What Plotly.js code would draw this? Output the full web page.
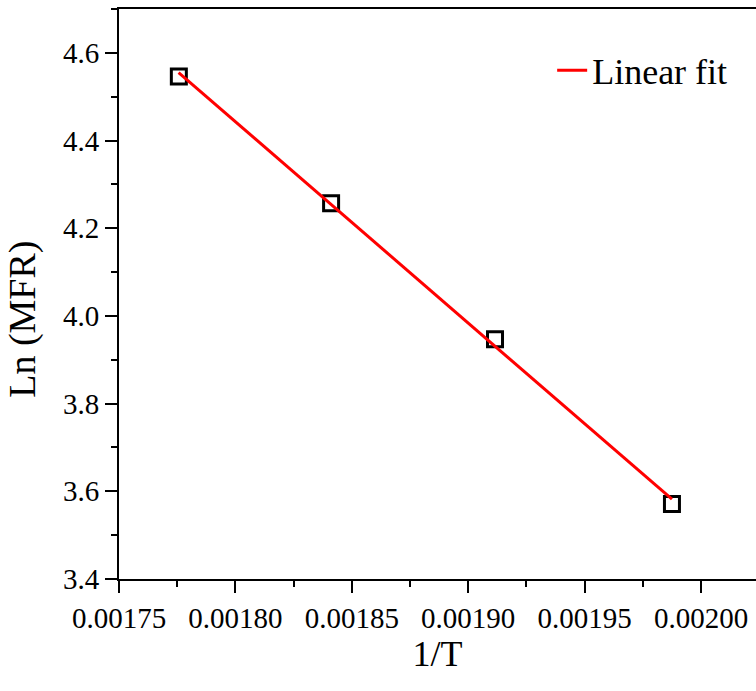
<!DOCTYPE html>
<html>
<head>
<meta charset="utf-8">
<script src="https://cdn.plot.ly/plotly-3.0.1.min.js"></script>
<style>
html,body{margin:0;padding:0;background:#fff;overflow:hidden;}
#chart{width:756px;height:691px;}
#chart .xtick text, #chart .ytick text{
  font-family: "Liberation Serif", "Times New Roman", serif !important;
  font-size: 29px !important;
}
#preload{position:absolute;left:-2000px;top:0;font-family:"Liberation Serif",serif;font-size:29px;}
</style>
</head>
<body>
<div id="preload">0.00175 4.6 Linear fit</div>
<div id="chart"></div>
<script>
// Measured data: 1/T vs Ln(MFR)
var invT = [0.0017757, 0.0018411, 0.0019115, 0.0019875];
var lnMFR = [4.546, 4.257, 3.947, 3.571];
// Linear fit end points
var fitX = [0.0017756, 0.0019875];
var fitY = [4.555, 3.582];
var xTicks = [0.00175, 0.00180, 0.00185, 0.00190, 0.00195, 0.00200];
var xTickText = ["0.00175", "0.00180", "0.00185", "0.00190", "0.00195", "0.00200"];
var yTicks = [3.4, 3.6, 3.8, 4.0, 4.2, 4.4, 4.6];
var yTickText = ["3.4", "3.6", "3.8", "4.0", "4.2", "4.4", "4.6"];

var font = '"Liberation Serif", "Times New Roman", serif';
var tickFont = {family: font, size: 29, color: '#000'};

var traces = [
  {
    x: invT, y: lnMFR, mode: 'markers', type: 'scatter', showlegend: false,
    marker: {symbol: 'square-open', size: 15, color: '#000', line: {width: 3, color: '#000'}}
  },
  {
    x: fitX, y: fitY, mode: 'lines', type: 'scatter', name: 'Linear fit',
    line: {color: '#ff0000', width: 3}
  }
];

var layout = {
  width: 756, height: 691,
  margin: {l: 119, r: 0, t: 9, b: 112},
  paper_bgcolor: '#fff', plot_bgcolor: '#fff',
  font: {family: font, size: 29, color: '#000'},
  showlegend: true,
  legend: {
    x: 0.68, y: 0.945, xanchor: 'left', yanchor: 'top',
    bgcolor: 'rgba(0,0,0,0)', borderwidth: 0,
    font: {family: font, size: 36, color: '#000'}
  },
  xaxis: {
    range: [0.00175, 0.0020236],
    tickmode: 'array', tickvals: xTicks, ticktext: xTickText,
    ticks: 'outside', ticklen: 12, tickwidth: 2, tickcolor: '#000',
    minor: {dtick: 0.000025, ticks: 'outside', ticklen: 6, tickwidth: 2, tickcolor: '#000', showgrid: false},
    showline: true, linewidth: 2, linecolor: '#000', mirror: true,
    showgrid: false, zeroline: false,
    tickfont: tickFont,
    title: {text: '1/T', font: {family: font, size: 36, color: '#000'}, standoff: 3}
  },
  yaxis: {
    range: [3.4, 4.7],
    tickmode: 'array', tickvals: yTicks, ticktext: yTickText,
    ticks: 'outside', ticklen: 12, tickwidth: 2, tickcolor: '#000',
    minor: {dtick: 0.1, ticks: 'outside', ticklen: 6, tickwidth: 2, tickcolor: '#000', showgrid: false},
    showline: true, linewidth: 2, linecolor: '#000', mirror: false,
    showgrid: false, zeroline: false,
    tickfont: tickFont
  },
  annotations: [{
    text: 'Ln (MFR)', textangle: -90, showarrow: false,
    xref: 'paper', yref: 'paper', x: -0.152, y: 0.455,
    xanchor: 'center', yanchor: 'middle',
    font: {family: font, size: 38, color: '#000'}
  }]
};

Plotly.newPlot('chart', traces, layout, {displayModeBar: false, staticPlot: true}).then(function(gd){
  var redo = function(){ return Plotly.react(gd, traces, layout, {displayModeBar: false, staticPlot: true}); };
  if (document.fonts && document.fonts.ready) {
    document.fonts.ready.then(redo);
  } else {
    redo();
  }
});
</script>
</body>
</html>
